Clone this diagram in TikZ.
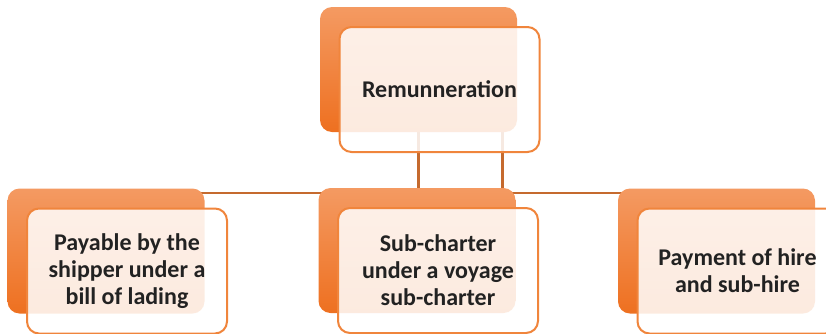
\documentclass[tikz,border=0pt]{standalone}
\usepackage{fontspec}
\setmainfont{Carlito}
\usepackage{tikz}
\usetikzlibrary{positioning}
\usetikzlibrary{backgrounds}
\definecolor{boxtop}{HTML}{F49A62}
\definecolor{boxbot}{HTML}{EE7020}
\definecolor{boxline}{HTML}{F0853C}
\definecolor{connline}{HTML}{C56A2E}
\definecolor{txt}{HTML}{222222}

\begin{document}
\begin{tikzpicture}[x=0.5pt, y=-0.5pt,
		backbox/.style={rounded corners=6pt, top color=boxtop, bottom color=boxbot,
			draw=none, minimum width=98.5pt, minimum height=62.5pt},
		frontbox/.style={rounded corners=6pt, draw=boxline, line width=1pt,
			fill=white, fill opacity=0.86, text opacity=1, text=txt,
			minimum width=100pt, minimum height=62.5pt, align=center,
			font=\fontsize{12}{13.5}\selectfont\bfseries},
		conn/.style={draw=connline, line width=1.1pt}
		]
		
		\useasboundingbox (0,0) rectangle (826,333);
		
		%back boxes
		\node[backbox] (remb) at (418.5,69.5) {};
		\node[backbox] (payb) at (106,251) {};
		\node[backbox] (subb) at (417,250.5) {};
		\node[backbox] (hireb) at (716.5,251) {};
		
		%connectors
		\begin{pgfonlayer}{background}
		\draw[conn] ([yshift=-2.5pt]payb.north) -- ([yshift=-2.5pt]hireb.north);
		\draw[conn] (remb.south) -- (remb.south |- subb.north);
		\draw[conn] ([xshift=42pt]remb.south) -- ([xshift=42pt]remb.south |- subb.north);
		\end{pgfonlayer}
		
		%front boxes
		\node[frontbox] (rem) at ([shift={(10.5pt,-10pt)}]remb.center) {Remunneration};
		\node[frontbox] (pay) at ([shift={(10.5pt,-10pt)}]payb.center) {Payable by the\\shipper under a\\bill of lading};
		\node[frontbox] (sub) at ([shift={(10.5pt,-10pt)}]subb.center) {Sub-charter\\under a voyage\\sub-charter};
		\node[frontbox] (hire) at ([shift={(10.5pt,-10pt)}]hireb.center) {Payment of hire\\and sub-hire};
	\end{tikzpicture}
\end{document}
